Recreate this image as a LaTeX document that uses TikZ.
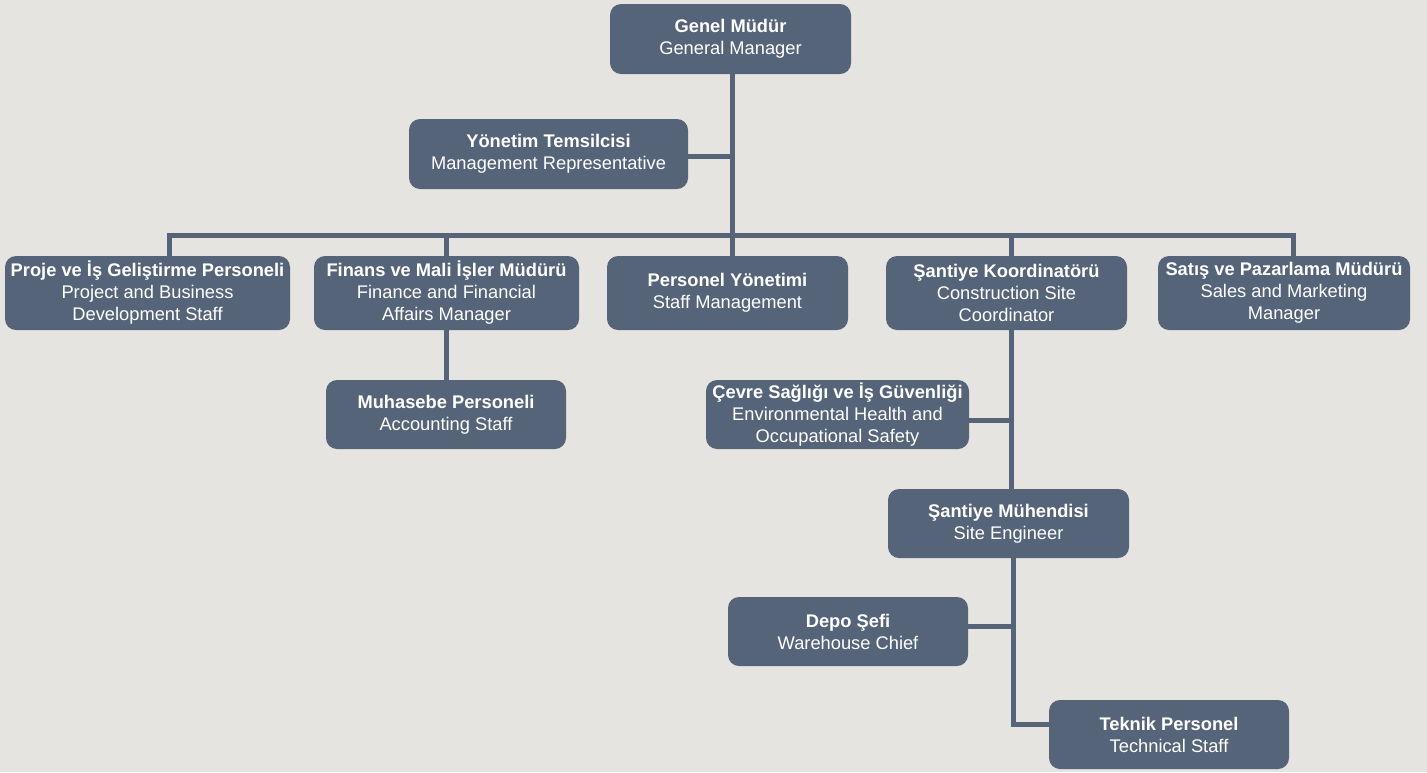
\documentclass[tikz,border=0pt]{standalone}
\usepackage{fontspec}
\setmainfont{Liberation Sans}
\definecolor{bg}{HTML}{E6E4E0}
\definecolor{box}{HTML}{566479}
\begin{document}
\begin{tikzpicture}[x=1pt,y=-1pt,
  org/.style={fill=box,rounded corners=11pt,text=white,align=center,font=\fontsize{18.3}{22}\selectfont,inner sep=0pt},
  link/.style={draw=box,line width=5pt}]
\fill[bg] (0,0) rectangle (1427,772);
\useasboundingbox (0,0) rectangle (1427,772);
\newcommand{\orgbox}[6]{\node[org,minimum width=#4pt,minimum height=#5pt] (#1) at (#2,#3) {#6};}
\orgbox{gm}{730.5}{39}{241}{70}{\textbf{Genel Müdür}\\General Manager}
\orgbox{yt}{548.5}{154}{279}{70}{\textbf{Yönetim Temsilcisi}\\Management Representative}
\orgbox{pi}{147.5}{293}{285}{74}{\textbf{Proje ve İş Geliştirme Personeli}\\Project and Business\\Development Staff}
\orgbox{fm}{446.5}{293}{265}{74}{\textbf{Finans ve Mali İşler Müdürü}\\Finance and Financial\\Affairs Manager}
\orgbox{py}{727.5}{293}{241}{74}{\textbf{Personel Yönetimi}\\Staff Management}
\orgbox{sk}{1006.5}{293}{241}{74}{\textbf{Şantiye Koordinatörü}\\Construction Site\\Coordinator}
\orgbox{sp}{1284}{293}{252}{74}{\textbf{Satış ve Pazarlama Müdürü}\\Sales and Marketing\\Manager}
\orgbox{mp}{446}{414.5}{240}{69}{\textbf{Muhasebe Personeli}\\Accounting Staff}
\orgbox{cs}{837.5}{414.5}{263}{69}{\textbf{Çevre Sağlığı ve İş Güvenliği}\\Environmental Health and\\Occupational Safety}
\orgbox{sm}{1008.5}{523.5}{241}{69}{\textbf{Şantiye Mühendisi}\\Site Engineer}
\orgbox{ds}{848}{631.5}{240}{69}{\textbf{Depo Şefi}\\Warehouse Chief}
\orgbox{tp}{1169}{734.5}{240}{69}{\textbf{Teknik Personel}\\Technical Staff}
\coordinate (bus) at (732,235);
\draw[link] (gm.south -| bus) -- (bus);
\draw[link] (yt.east |- 0,156) -- (732,156);
\draw[link] (pi.north -| 169,0) -- (169,235) -- (1293,235) -- (sp.north -| 1293,0);
\draw[link] (446,235) -- (fm.north -| 446,0);
\draw[link] (bus) -- (py.north -| 732,0);
\draw[link] (1011,235) -- (sk.north -| 1011,0);
\draw[link] (fm.south -| 446,0) -- (mp.north -| 446,0);
\draw[link] (sk.south -| 1011,0) -- (sm.north -| 1011,0);
\draw[link] (cs.east |- 0,420) -- (1011,420);
\draw[link] (sm.south -| 1013,0) -- (1013,724) -- (tp.west |- 0,724);
\draw[link] (ds.east |- 0,626) -- (1013,626);
\end{tikzpicture}
\end{document}
